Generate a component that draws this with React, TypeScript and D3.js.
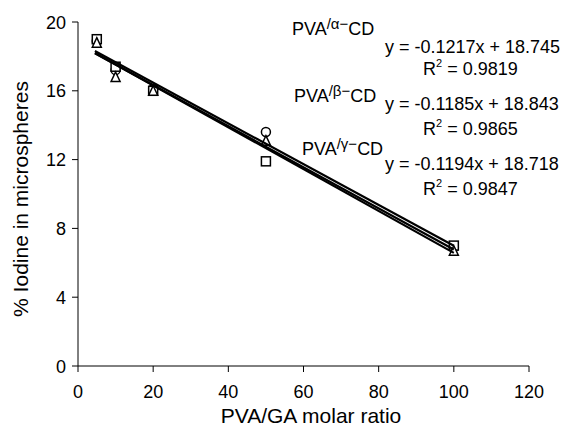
import React from "react";
import * as d3 from "d3";

const xs = [5, 10, 20, 50, 100];
const alphaVals = [19.0, 17.4, 16.0, 11.9, 7.0]; // squares
const betaVals = [18.9, 17.2, 16.1, 13.6, 6.9]; // circles
const gammaVals = [18.8, 16.8, 16.0, 13.1, 6.7]; // triangles

const fits = [
  { name: "α", slope: -0.1217, intercept: 18.745, r2: "0.9819" },
  { name: "β", slope: -0.1185, intercept: 18.843, r2: "0.9865" },
  { name: "γ", slope: -0.1194, intercept: 18.718, r2: "0.9847" },
];

const xTicks = [0, 20, 40, 60, 80, 100, 120];
const yTicks = [0, 4, 8, 12, 16, 20];

const W = 562;
const H = 430;
const FONT = "'Liberation Sans', Arial, Helvetica, sans-serif";

export default function App() {
  const x = d3.scaleLinear().domain([0, 120]).range([78, 529]);
  const y = d3.scaleLinear().domain([0, 20]).range([366, 22]);
  const msz = 9;

  const triPath = (cx: number, cy: number) => {
    const h = msz;
    const w = msz;
    return `M${cx},${cy - h / 2 - 0.5}L${cx + w / 2},${cy + h / 2}L${cx - w / 2},${cy + h / 2}Z`;
  };

  const lineGen = d3
    .line<number[]>()
    .x((d) => x(d[0]))
    .y((d) => y(d[1]));

  const labelPos = [
    { px: 292, py: 35, ex: 385, ey: 53, rx: 423, ry: 75 },
    { px: 294, py: 102, ex: 385, ey: 110, rx: 423, ry: 135 },
    { px: 302, py: 155, ex: 385, ey: 170, rx: 423, ry: 195 },
  ];

  return (
    <svg
      width={W}
      height={H}
      style={{ position: "absolute", left: 0, top: 0, background: "#fff" }}
      fontFamily={FONT}
    >
      <rect x={0} y={0} width={W} height={H} fill="#fff" />
      {/* axes */}
      <line x1={x(0)} x2={x(0)} y1={y(0)} y2={y(20)} stroke="#000" strokeWidth={1} />
      <line x1={x(0)} x2={x(120)} y1={y(0)} y2={y(0)} stroke="#000" strokeWidth={1} />
      {yTicks.map((t) => (
        <g key={"y" + t}>
          <line x1={x(0) - 6} x2={x(0)} y1={y(t)} y2={y(t)} stroke="#000" />
          <text x={66} y={y(t) + 6.5} fontSize={18} textAnchor="end" fill="#000">
            {t}
          </text>
        </g>
      ))}
      {xTicks.map((t) => (
        <g key={"x" + t}>
          <line x1={x(t)} x2={x(t)} y1={y(0)} y2={y(0) + 6} stroke="#000" />
          <text x={x(t)} y={398} fontSize={18} textAnchor="middle" fill="#000">
            {t}
          </text>
        </g>
      ))}
      <text x={311} y={423} fontSize={21} textAnchor="middle" fill="#000">
        PVA/GA molar ratio
      </text>
      <text
        transform={`translate(28,199) rotate(-90)`}
        fontSize={21}
        textAnchor="middle"
        fill="#000"
      >
        % Iodine in microspheres
      </text>

      {/* markers: circles, squares, triangles */}
      {xs.map((v, i) => (
        <circle
          key={"c" + i}
          cx={x(v)}
          cy={y(betaVals[i])}
          r={msz / 2}
          fill="#fff"
          stroke="#000"
          strokeWidth={1.5}
        />
      ))}
      {xs.map((v, i) => (
        <rect
          key={"s" + i}
          x={x(v) - msz / 2}
          y={y(alphaVals[i]) - msz / 2}
          width={msz}
          height={msz}
          fill="#fff"
          stroke="#000"
          strokeWidth={1.5}
        />
      ))}
      {xs.map((v, i) => (
        <path
          key={"t" + i}
          d={triPath(x(v), y(gammaVals[i]))}
          fill="#fff"
          stroke="#000"
          strokeWidth={1.5}
        />
      ))}

      {/* regression lines */}
      {fits.map((f) => (
        <path
          key={"l" + f.name}
          d={
            lineGen([
              [4.5, f.intercept + f.slope * 4.5],
              [100, f.intercept + f.slope * 100],
            ]) || ""
          }
          fill="none"
          stroke="#000"
          strokeWidth={2.2}
        />
      ))}

      {/* annotations */}
      {fits.map((f, i) => {
        const p = labelPos[i];
        const sign = f.intercept >= 0 ? "+" : "-";
        return (
          <g key={"a" + f.name} fill="#000">
            <text x={p.px} y={p.py} fontSize={18}>
              PVA
              <tspan fontSize={15} dy={-6}>
                /{f.name}−
              </tspan>
              <tspan dy={6}>CD</tspan>
            </text>
            <text x={p.ex} y={p.ey} fontSize={18}>
              {`y = -${Math.abs(f.slope).toFixed(4)}x ${sign} ${f.intercept.toFixed(3)}`}
            </text>
            <text x={p.rx} y={p.ry} fontSize={18}>
              R
              <tspan fontSize={11} dy={-8}>
                2
              </tspan>
              <tspan dy={8}>{` = ${f.r2}`}</tspan>
            </text>
          </g>
        );
      })}
    </svg>
  );
}
